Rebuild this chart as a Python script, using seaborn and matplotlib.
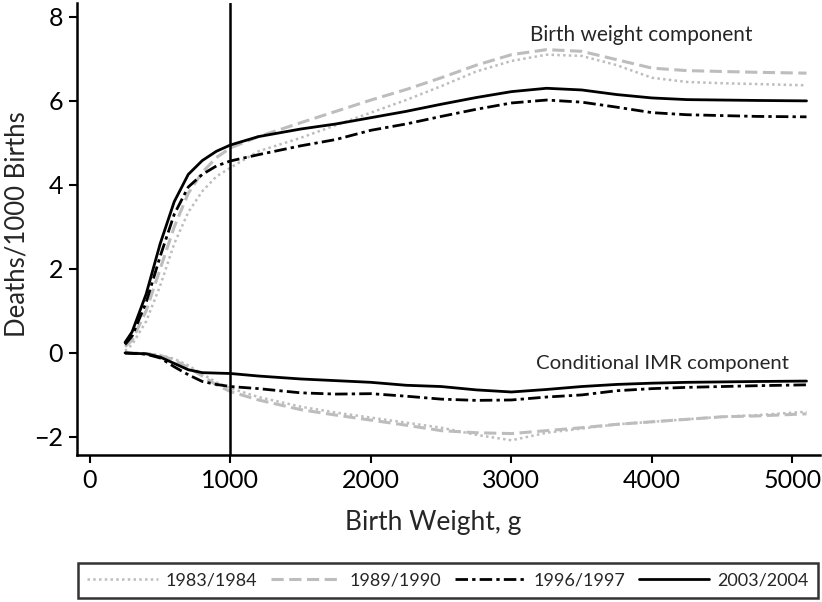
import matplotlib
matplotlib.use("Agg")
import matplotlib.pyplot as plt
import seaborn as sns
import pandas as pd

# ---- data ----
birth_weight = [250, 300, 400, 500, 600, 700, 800, 900, 1000, 1200, 1500, 1750, 2000,
                2250, 2500, 2750, 3000, 3250, 3500, 3750, 4000, 4250, 4500, 4750, 5100]

years = ["1983/1984", "1989/1990", "1996/1997", "2003/2004"]

# Birth weight component (upper curves)
bw_1983 = [0.05, 0.2, 0.75, 1.6, 2.6, 3.35, 3.85, 4.2, 4.41, 4.8, 5.12, 5.42, 5.72,
           6.02, 6.35, 6.7, 6.95, 7.1, 7.07, 6.85, 6.55, 6.45, 6.42, 6.4, 6.37]
bw_1989 = [0.15, 0.3, 1.0, 2.0, 3.0, 3.8, 4.3, 4.65, 4.88, 5.15, 5.48, 5.75, 6.02,
           6.27, 6.55, 6.85, 7.1, 7.22, 7.18, 6.98, 6.78, 6.72, 6.7, 6.68, 6.66]
bw_1996 = [0.2, 0.4, 1.2, 2.3, 3.3, 3.95, 4.25, 4.45, 4.57, 4.72, 4.93, 5.08, 5.3,
           5.45, 5.63, 5.8, 5.95, 6.02, 5.97, 5.85, 5.72, 5.67, 5.65, 5.63, 5.62]
bw_2003 = [0.25, 0.5, 1.4, 2.6, 3.6, 4.25, 4.58, 4.8, 4.95, 5.15, 5.33, 5.45, 5.6,
           5.75, 5.92, 6.08, 6.22, 6.3, 6.26, 6.15, 6.07, 6.03, 6.02, 6.01, 6.0]

# Conditional IMR component (lower curves)
imr_1983 = [0.0, 0.0, -0.01, -0.05, -0.14, -0.3, -0.5, -0.7, -0.84, -1.05, -1.28, -1.42, -1.54,
            -1.66, -1.78, -1.95, -2.08, -1.9, -1.8, -1.7, -1.64, -1.58, -1.52, -1.48, -1.4]
imr_1989 = [0.0, 0.0, -0.02, -0.06, -0.17, -0.35, -0.55, -0.76, -0.92, -1.12, -1.35, -1.48, -1.6,
            -1.72, -1.85, -1.9, -1.92, -1.85, -1.78, -1.7, -1.64, -1.58, -1.52, -1.5, -1.45]
imr_1996 = [0.0, -0.01, -0.03, -0.12, -0.33, -0.52, -0.68, -0.75, -0.8, -0.85, -0.95, -0.98, -0.97,
            -1.03, -1.1, -1.13, -1.12, -1.05, -1.0, -0.9, -0.85, -0.82, -0.8, -0.78, -0.76]
imr_2003 = [0.0, -0.01, -0.02, -0.1, -0.25, -0.4, -0.47, -0.48, -0.49, -0.55, -0.62, -0.66, -0.7,
            -0.77, -0.8, -0.88, -0.93, -0.87, -0.8, -0.75, -0.72, -0.7, -0.69, -0.68, -0.67]

x_ticks = [0, 1000, 2000, 3000, 4000, 5000]
y_ticks = [-2, 0, 2, 4, 6, 8]

bw_series = [bw_1983, bw_1989, bw_1996, bw_2003]
imr_series = [imr_1983, imr_1989, imr_1996, imr_2003]

# ---- styles ----
GRAY = "#bdbdbd"
styles = {
    "1983/1984": dict(color=GRAY, linestyle=(0, (1.0, 1.3)), linewidth=1.8),
    "1989/1990": dict(color=GRAY, linestyle=(0, (4.0, 1.8)), linewidth=2.2),
    "1996/1997": dict(color="black", linestyle=(0, (4.5, 1.5, 1.2, 1.5)), linewidth=2.0),
    "2003/2004": dict(color="black", linestyle="-", linewidth=2.0),
}

sns.set_style("ticks")
plt.rcParams["font.family"] = ["Lato", "DejaVu Sans"]

fig = plt.figure(figsize=(8.22, 6.02), dpi=100)
ax = fig.add_axes([77 / 822, 1 - 455 / 602, 743 / 822, 452 / 602])

for yr, bw, imr in zip(years, bw_series, imr_series):
    df_bw = pd.DataFrame({"x": birth_weight, "y": bw})
    df_imr = pd.DataFrame({"x": birth_weight, "y": imr})
    sns.lineplot(data=df_bw, x="x", y="y", ax=ax, label=yr, **styles[yr])
    sns.lineplot(data=df_imr, x="x", y="y", ax=ax, **styles[yr])

ax.axvline(1000, color="black", linewidth=1.8)

ax.set_xlim(-92, 5196)
ax.set_ylim(-2.43, 8.33)
ax.set_xticks(x_ticks)
ax.set_yticks(y_ticks)
ax.set_yticklabels(["\u22122", "0", "2", "4", "6", "8"])

for s in ["top", "right"]:
    ax.spines[s].set_visible(False)
for s in ["left", "bottom"]:
    ax.spines[s].set_linewidth(1.8)
    ax.spines[s].set_color("black")
ax.tick_params(axis="both", direction="out", length=6, width=1.5, labelsize=18,
               colors="black", pad=4)

ax.set_xlabel("Birth Weight, g", fontsize=19)
ax.set_ylabel("Deaths/1000 Births", fontsize=18.5)
ax.xaxis.set_label_coords(0.479, -0.122)
ax.yaxis.set_label_coords(-0.064, 0.51)

ax.text(3922, 7.58, "Birth weight component", fontsize=15, ha="center", va="center")
ax.text(4078, -0.24, "Conditional IMR component", fontsize=14.7, ha="center", va="center")

handles, labels = ax.get_legend_handles_labels()
ax.get_legend().remove()
leg = fig.legend(handles, labels, loc="center", bbox_to_anchor=(448 / 822, 1 - 580.5 / 602),
                 ncol=4, fontsize=13, frameon=True, fancybox=False, handlelength=3.9,
                 handletextpad=0.45, columnspacing=0.75, borderpad=0.5, borderaxespad=0)
leg.get_frame().set_edgecolor("black")
leg.get_frame().set_linewidth(1.8)

fig.savefig("out.png", dpi=100)
